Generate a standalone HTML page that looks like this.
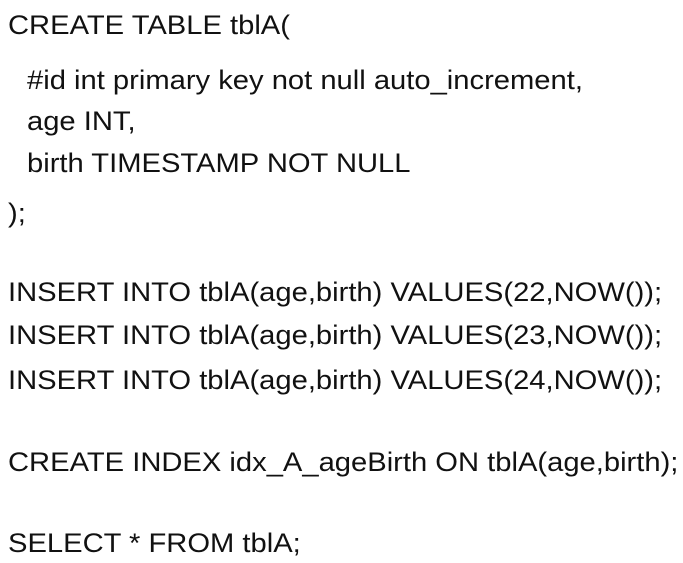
<!DOCTYPE html>
<html><head><meta charset="utf-8"><style>
html,body{margin:0;padding:0;background:#fff;width:683px;height:563px;overflow:hidden}
div{position:absolute;left:8px;font-family:"Liberation Sans",Arial,sans-serif;font-size:27px;line-height:30px;color:#111;white-space:pre;transform:scaleX(1.08);transform-origin:0 0}
</style></head><body>
<div style="top:10px">CREATE TABLE tblA(</div>
<div style="top:65px;left:27px">#id int primary key not null auto_increment,</div>
<div style="top:106px;left:27px">age INT,</div>
<div style="top:148px;left:27px">birth TIMESTAMP NOT NULL</div>
<div style="top:198px">);</div>
<div style="top:277px">INSERT INTO tblA(age,birth) VALUES(22,NOW());</div>
<div style="top:320px">INSERT INTO tblA(age,birth) VALUES(23,NOW());</div>
<div style="top:365px">INSERT INTO tblA(age,birth) VALUES(24,NOW());</div>
<div style="top:447px">CREATE INDEX idx_A_ageBirth ON tblA(age,birth);</div>
<div style="top:528px">SELECT * FROM tblA;</div>
</body></html>
